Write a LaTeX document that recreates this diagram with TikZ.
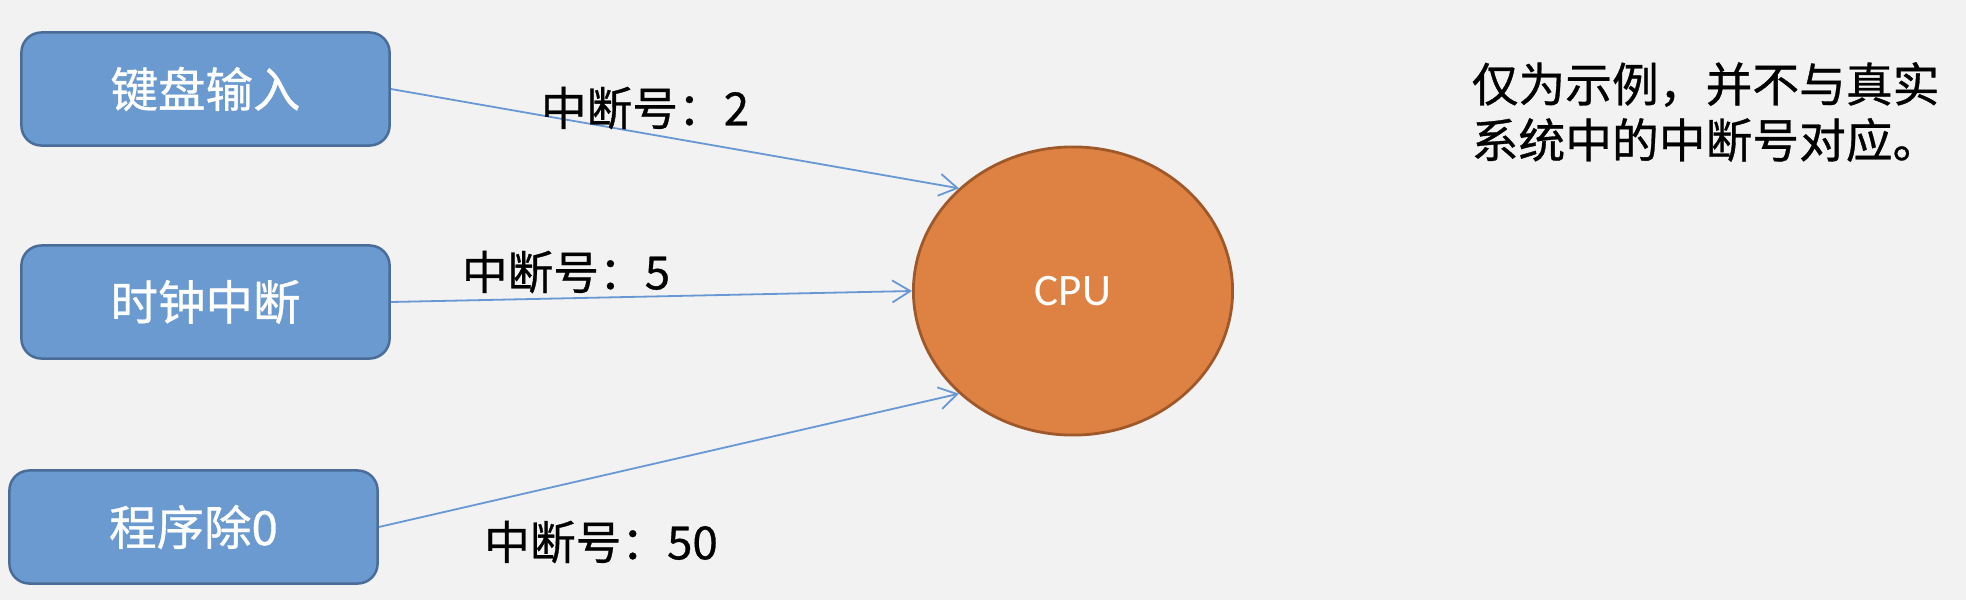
\documentclass[tikz,border=0pt]{standalone}
\usepackage{fontspec}
\setmainfont{Carlito}
\newfontfamily\cjk[FakeBold=0.7]{Noto Sans CJK SC}
\usetikzlibrary{arrows.meta,shapes.geometric}
\definecolor{bgray}{RGB}{242,242,242}
\definecolor{boxblue}{RGB}{106,154,208}
\definecolor{boxedge}{RGB}{74,108,152}
\definecolor{cpuorange}{RGB}{222,130,68}
\definecolor{cpuedge}{RGB}{158,88,42}
\definecolor{linkblue}{RGB}{104,152,212}
\tikzset{
  srcbox/.style={draw=boxedge,fill=boxblue,line width=0.025cm,rounded corners=0.2cm,
    minimum width=3.68cm,minimum height=1.13cm,inner sep=0pt,text=white,
    font=\cjk\fontsize{13.5}{16}\selectfont},
  cpunode/.style={ellipse,draw=cpuedge,fill=cpuorange,line width=0.028cm,
    minimum width=3.19cm,minimum height=2.88cm,inner sep=0pt,text=white,
    font=\fontsize{12.8}{15}\selectfont},
  irqlabel/.style={font=\cjk\fontsize{13}{15}\selectfont,inner sep=0pt},
  irqlink/.style={draw=linkblue,line width=0.018cm,-{Straight Barb[length=1.8mm,width=2.2mm]}}
}
\begin{document}
\begin{tikzpicture}[x=0.01cm,y=-0.01cm]
\fill[bgray] (0,0) rectangle (1966,600);
\useasboundingbox (0,0) rectangle (1966,600);
\node[srcbox] (kbd) at (205.5,89) {键盘输入};
\node[srcbox] (clk) at (205.5,302) {时钟中断};
\node[srcbox] (divz) at (193.5,527) {程序除0};
\node[cpunode] (cpu) at (1073,291) {CPU};
\draw[irqlink] (kbd.east) -- (cpu.138);
\draw[irqlink] (clk.east) -- (cpu.180);
\draw[irqlink] (divz.east) -- (cpu.222);
\node[irqlabel] (irqa) at (645,108) {中断号：2};
\node[irqlabel] (irqb) at (566,272) {中断号：5};
\node[irqlabel] (irqc) at (601,542) {中断号：50};
\node[irqlabel,anchor=west,align=left,font=\cjk\fontsize{13.3}{15.9}\selectfont] (note) at (1471,112) {仅为示例，并不与真实\\系统中的中断号对应。};
\end{tikzpicture}
\end{document}
